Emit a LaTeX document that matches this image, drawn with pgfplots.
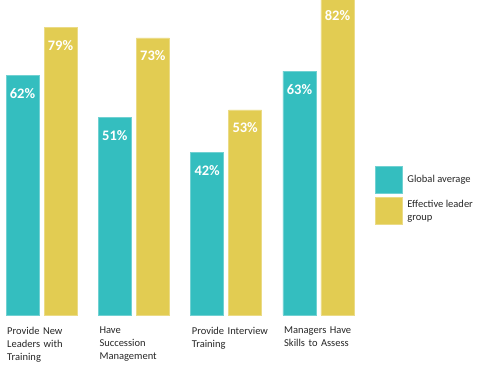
\documentclass[border=0pt]{standalone}
\usepackage{pgfplots}
\pgfplotsset{compat=1.18}
\usepackage{fontspec}
\setmainfont{Carlito}
\definecolor{tealbar}{RGB}{52,190,191}
\definecolor{yellowbar}{RGB}{226,204,82}
\begin{document}
\begin{tikzpicture}
\useasboundingbox (0,0) rectangle (495pt,370pt);
\begin{axis}[
  at={(4.6pt,55pt)}, anchor=south west,
  scale only axis,
  width=350.8pt, height=317.3pt,
  xmin=-0.4, xmax=3.4,
  ymin=0, ymax=82,
  ybar=5pt, bar width=33pt,
  axis line style={draw=none},
  major tick length=0pt,
  ytick=\empty,
  xtick={0,1,2,3},
  xticklabels={{Provide New\\Leaders with\\Training},{Have\\Succession\\Management},{Provide Interview\\Training},{Managers Have\\Skills to Assess}},
  xticklabel style={anchor=north west, align=left, text width=85pt, inner sep=0pt, xshift=-34.5pt, yshift=-12pt, font=\fontsize{10.5pt}{13pt}\selectfont, text=black!85},
  point meta=explicit symbolic,
  nodes near coords,
  every node near coord/.append style={anchor=center, yshift=-18pt, text=white, font=\fontsize{14.5pt}{16pt}\selectfont\bfseries},
  legend image code/.code={\fill[#1] (0pt,-13.5pt) rectangle (27pt,13.5pt);},
  legend cell align=left,
  legend style={draw=none, fill=none, inner sep=0pt, outer sep=0pt,
    at={(1.0559,0.4696)}, anchor=north west, row sep=4pt, column sep=5pt,
    nodes={align=left, inner sep=0pt, font=\fontsize{10.5pt}{13pt}\selectfont, text=black!85}},
]
\addplot[fill=tealbar, draw=tealbar!70!white, line width=0.4pt] coordinates {(0,62)[62\%] (1,51)[51\%] (2,42)[42\%] (3,63)[63\%]};
\addlegendentry{Global average}
\addplot[fill=yellowbar, draw=yellowbar!70!white, line width=0.4pt] coordinates {(0,74.4)[79\%] (1,71.6)[73\%] (2,53)[53\%] (3,82)[82\%]};
\addlegendentry{Effective leader\\group}
\end{axis}
\end{tikzpicture}
\end{document}
